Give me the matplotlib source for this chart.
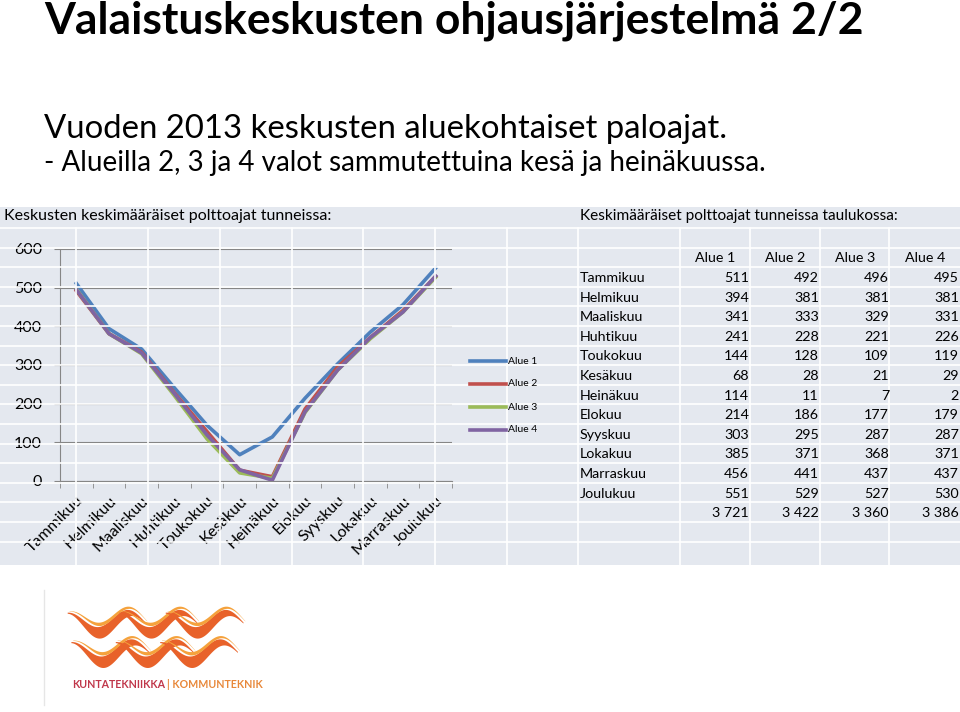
import matplotlib
matplotlib.use('Agg')
import matplotlib.pyplot as plt
from matplotlib.lines import Line2D
from matplotlib.patches import Rectangle, Polygon
import numpy as np

W, H = 960, 712

# Data
months = ['Tammikuu', 'Helmikuu', 'Maaliskuu', 'Huhtikuu', 'Toukokuu', 'Kesäkuu',
          'Heinäkuu', 'Elokuu', 'Syyskuu', 'Lokakuu', 'Marraskuu', 'Joulukuu']
series_names = ['Alue 1', 'Alue 2', 'Alue 3', 'Alue 4']
alue1 = [511, 394, 341, 241, 144, 68, 114, 214, 303, 385, 456, 551]
alue2 = [492, 381, 333, 228, 128, 28, 11, 186, 295, 371, 441, 529]
alue3 = [496, 381, 329, 221, 109, 21, 7, 177, 287, 368, 437, 527]
alue4 = [495, 381, 331, 226, 119, 29, 2, 179, 287, 371, 437, 530]
totals = ['3 721', '3 422', '3 360', '3 386']
y_ticks = [0, 100, 200, 300, 400, 500, 600]

colors = ['#4f81bd', '#c0504d', '#9bbb59', '#8064a2']
base = ['Lato', 'DejaVu Sans']


def fx(x):
    return x / W


def fy(y):
    return 1 - y / H


fig = plt.figure(figsize=(W / 100, H / 100), dpi=100)
renderer = fig.canvas.get_renderer()


# skaalaa tekstin koko niin, että leveys vastaa mallia
def fit(txt, width):
    w = txt.get_window_extent(renderer).width
    txt.set_fontsize(txt.get_fontsize() * width / w)
    return txt


# Otsikot
fit(fig.text(fx(44), fy(21), 'Valaistuskeskusten ohjausjärjestelmä 2/2', fontsize=28,
             weight='bold', family=base, va='center'), 818)
fit(fig.text(fx(44), fy(129), 'Vuoden 2013 keskusten aluekohtaiset paloajat.', fontsize=20,
             family=base, va='center'), 683)
fit(fig.text(fx(44), fy(163), '- Alueilla 2, 3 ja 4 valot sammutettuina kesä ja heinäkuussa.',
             fontsize=17, family=base, va='center'), 720)

# Taulukkolaskentapohja taustalle
fig.add_artist(Rectangle((0, fy(565)), 1, (565 - 207) / H, transform=fig.transFigure,
                         facecolor='#e4e8ef', edgecolor='none', zorder=0))
for k in range(17):
    y = 228 + 19.6 * k
    fig.add_artist(Line2D([0, 1], [fy(y), fy(y)], color='white', lw=1.2, zorder=0.5))
for x in [76, 148, 220, 292, 363, 435, 507, 578, 680, 750, 820, 889]:
    fig.add_artist(Line2D([fx(x), fx(x)], [fy(228), fy(565)], color='white', lw=1.2, zorder=0.5))

# Kaavio
fit(fig.text(fx(4), fy(216), 'Keskusten keskimääräiset polttoajat tunneissa:', fontsize=11,
             family=base, va='center'), 326)
ax = fig.add_axes([fx(60), fy(481), 392 / W, 232 / H])
ax.patch.set_alpha(0)
x = np.arange(len(months))
for vals, c, name in zip([alue1, alue2, alue3, alue4], colors, series_names):
    ax.plot(x, vals, color=c, lw=2.6, label=name, solid_joinstyle='round')
ax.set_xlim(-0.5, len(months) - 0.5)
ax.set_ylim(0, 600)
ax.set_yticks(y_ticks)
ax.set_xticks(x)
ax.set_xticklabels(months, rotation=45, ha='right', rotation_mode='anchor',
                   fontsize=11.5, family=base)
ax.set_xticks(np.arange(-0.5, len(months)), minor=True)
ax.tick_params(axis='x', which='major', length=0, pad=9)
ax.tick_params(axis='x', which='minor', length=5, color='#868686')
ax.tick_params(axis='y', length=4, color='#868686', labelsize=11.5, pad=9)
for lbl in ax.get_yticklabels():
    lbl.set_family(base)
ax.grid(axis='y', color='#868686', lw=0.8)
ax.set_axisbelow(True)
for s in ['top', 'right']:
    ax.spines[s].set_visible(False)
for s in ['left', 'bottom']:
    ax.spines[s].set_color('#868686')

# Selite
for i, name in enumerate(series_names):
    y = 361 + 23 * i
    fig.add_artist(Line2D([fx(470), fx(506)], [fy(y), fy(y)], color=colors[i], lw=2.6))
    fig.text(fx(508), fy(y), name, fontsize=7.5, family=base, va='center')

# Taulukko
fit(fig.text(fx(580), fy(216), 'Keskimääräiset polttoajat tunneissa taulukossa:', fontsize=11,
             family=base, va='center'), 317)
col_right = [749, 819, 889, 959]
for j, name in enumerate(series_names):
    fig.text(fx(col_right[j] - 34), fy(258), name, fontsize=10.3, family=base,
             ha='center', va='center')
table_cols = [alue1, alue2, alue3, alue4]
for i, m in enumerate(months):
    y = 278 + 19.6 * i
    fig.text(fx(580), fy(y), m, fontsize=10.3, family=base, va='center')
    for j in range(4):
        fig.text(fx(col_right[j]), fy(y), str(table_cols[j][i]), fontsize=10.3,
                 family=base, ha='right', va='center')
for j, t in enumerate(totals):
    fig.text(fx(col_right[j]), fy(278 + 19.6 * 12), t, fontsize=10.3, family=base,
             ha='right', va='center')

# Logo
fig.add_artist(Line2D([fx(44), fx(44)], [fy(590), fy(705)], color='#e6e6e6', lw=1))
lax = fig.add_axes([fx(64), fy(672), 185 / W, 70 / H])
lax.set_xlim(0, 1)
lax.set_ylim(0, 1)
lax.axis('off')
t = np.linspace(0, 1, 100)
for row, y0 in enumerate([0.7, 0.28]):
    starts = [0.02, 0.3, 0.55] if row == 0 else [0.04, 0.28, 0.52]
    for s in starts:
        w = 0.42
        xs = s + w * t
        cy = y0 + 0.14 * np.cos(2 * np.pi * 1.25 * t)
        th = 0.08 * np.sin(np.pi * t) ** 1.5 + 0.008
        poly = np.column_stack([np.r_[xs, xs[::-1]], np.r_[cy - th, (cy + th)[::-1]]])
        lax.add_patch(Polygon(poly, closed=True, facecolor='#e8622a', edgecolor='none'))
        poly2 = np.column_stack([np.r_[xs + 0.01, (xs + 0.01)[::-1]],
                                 np.r_[cy + th + 0.015, (cy + th + 0.015 + 0.6 * th)[::-1]]])
        lax.add_patch(Polygon(poly2, closed=True, facecolor='#f5a23c', edgecolor='none'))
logo1 = fit(fig.text(fx(72), fy(684), 'KUNTATEKNIIKKA', fontsize=8, family=base,
                     weight='bold', color='#c0374a', va='center'), 104)
logo2 = fit(fig.text(fx(179), fy(684), '| KOMMUNTEKNIK', fontsize=8, family=base,
                     weight='bold', color='#e8883a', va='center'), 84)
size = (logo1.get_fontsize() + logo2.get_fontsize()) / 2
logo1.set_fontsize(size)
logo2.set_fontsize(size)
w1 = logo1.get_window_extent(renderer).width
logo2.set_x(fx(72 + w1 + 2))

fig.savefig('out.png', dpi=100)
